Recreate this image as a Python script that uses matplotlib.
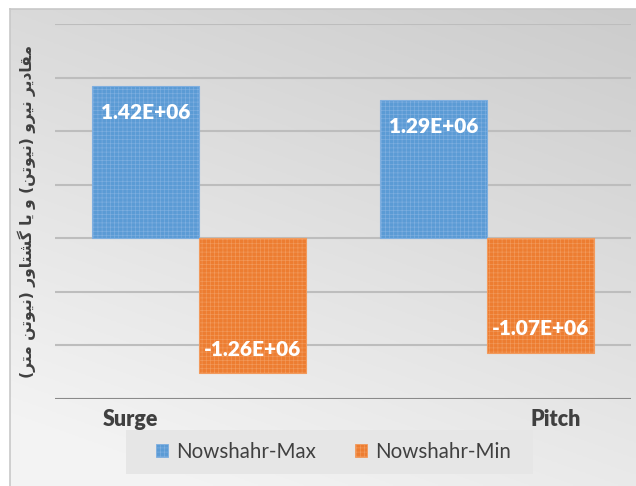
import numpy as np
import matplotlib
matplotlib.use("Agg")
import matplotlib.pyplot as plt
from matplotlib.patches import Patch, Rectangle
from matplotlib.transforms import ScaledTranslation

# ---- data ----
categories = ["Surge", "Pitch"]
series_names = ["Nowshahr-Max", "Nowshahr-Min"]
max_values = [1.42e6, 1.29e6]
min_values = [-1.26e6, -1.07e6]
y_label = "مقادیر نیرو (نیوتن) و یا گشتاور (نیوتن متر)"

colors = ["#5B9BD5", "#ED7D31"]
hatch_colors = ["#7FAFE0", "#F29A5C"]

# ---- minimal Arabic-script shaping (contextual forms + visual order) ----
FORMS = {
    "ا": ("\uFE8D", "\uFE8E", None, None),
    "د": ("\uFEA9", "\uFEAA", None, None),
    "ر": ("\uFEAD", "\uFEAE", None, None),
    "و": ("\uFEED", "\uFEEE", None, None),
    "م": ("\uFEE1", "\uFEE2", "\uFEE3", "\uFEE4"),
    "ق": ("\uFED5", "\uFED6", "\uFED7", "\uFED8"),
    "ن": ("\uFEE5", "\uFEE6", "\uFEE7", "\uFEE8"),
    "ت": ("\uFE95", "\uFE96", "\uFE97", "\uFE98"),
    "ش": ("\uFEB5", "\uFEB6", "\uFEB7", "\uFEB8"),
    "ی": ("\uFBFC", "\uFBFD", "\uFBFE", "\uFBFF"),
    "گ": ("\uFB92", "\uFB93", "\uFB94", "\uFB95"),
}
MIRROR = {"(": ")", ")": "("}


def shape_rtl(text):
    out = []
    for i, ch in enumerate(text):
        if ch not in FORMS:
            out.append(MIRROR.get(ch, ch))
            continue
        prev = text[i - 1] if i > 0 else ""
        nxt = text[i + 1] if i + 1 < len(text) else ""
        join_prev = prev in FORMS and FORMS[prev][2] is not None
        join_next = nxt in FORMS and FORMS[ch][2] is not None
        iso, fin, ini, med = FORMS[ch]
        if join_prev and join_next:
            out.append(med)
        elif join_prev:
            out.append(fin)
        elif join_next:
            out.append(ini)
        else:
            out.append(iso)
    return "".join(reversed(out))


plt.rcParams["hatch.linewidth"] = 0.45
W, H, DPI = 636, 486, 100
fig = plt.figure(figsize=(W / DPI, H / DPI), dpi=DPI, facecolor="white")

# ---- chart-area background: soft gray gradient ----
bg = fig.add_axes([10 / W, 0, (W - 10) / W, (H - 9) / H], zorder=-2)
yy, xx = np.mgrid[0:1:200j, 0:1:200j]
t = np.clip(0.75 * yy + 0.35 * (1 - xx), 0, 1)
t = 1 - t
light, dark = np.array([0.955, 0.955, 0.955]), np.array([0.80, 0.80, 0.80])
img = light[None, None, :] * (1 - t[..., None]) + dark[None, None, :] * t[..., None]
img = img[::-1]
bg.imshow(img, extent=[0, 1, 0, 1], aspect="auto", origin="lower")
bg.set_xlim(0, 1)
bg.set_ylim(0, 1)
bg.set_xticks([])
bg.set_yticks([])
for side, sp in bg.spines.items():
    sp.set_visible(side in ("left", "top"))
    sp.set_color("#c8c8c8")
    sp.set_linewidth(1.2)

# ---- legend panel ----
fig.add_artist(Rectangle((126 / W, (H - 474) / H), 407 / W, 44 / H,
                         transform=fig.transFigure, facecolor="#e6e6e6",
                         edgecolor="none", zorder=-1))

# ---- main axes ----
ax = fig.add_axes([55 / W, (H - 399) / H, 576 / W, 375 / H], zorder=0)
ax.set_facecolor("none")
x = np.arange(len(categories))
w = 0.372

bars = []
for k, (vals, c, hc) in enumerate(zip([max_values, min_values], colors, hatch_colors)):
    b = ax.bar(x + (k - 0.5) * w, vals, width=w, color=c, edgecolor=hc,
               linewidth=0.8, hatch="++++", zorder=3, label=series_names[k])
    bars.append(b)

ax.set_xlim(-0.5, len(categories) - 0.5)
ax.set_ylim(-1.5e6, 2.0e6)
ax.set_yticks(np.arange(-1.5e6, 2.01e6, 0.5e6))
ax.yaxis.grid(True, color="#bdbdbd", linewidth=1.5, zorder=1)
ax.set_axisbelow(True)
ax.tick_params(axis="both", length=0)
ax.set_yticklabels([])
for sp in ax.spines.values():
    sp.set_visible(False)
ax.axhline(-1.5e6, color="#8a8a8a", linewidth=2.2, zorder=2)

# category labels
ax.set_xticks(x)
ax.set_xticklabels(categories, fontfamily="Lato", fontweight="heavy",
                   fontsize=15.5, color="#404040")
ax.tick_params(axis="x", pad=7)
shifts = [-69, 69]
for lab, s in zip(ax.get_xticklabels(), shifts):
    lab.set_transform(lab.get_transform() + ScaledTranslation(s / DPI, 0, fig.dpi_scale_trans))

# value labels inside bar ends
for b in bars:
    for rect in b:
        v = rect.get_height() if rect.get_y() >= 0 else rect.get_y()
        xc = rect.get_x() + rect.get_width() / 2
        off = -26 if v > 0 else 24
        ax.annotate(f"{v:.2E}", xy=(xc, v), xytext=(0, off), textcoords="offset pixels",
                    ha="center", va="center", color="white", fontweight="heavy",
                    fontfamily="Lato", fontsize=15, zorder=5)

# y-axis title (Persian)
ax.set_ylabel(shape_rtl(y_label), fontfamily=["DejaVu Sans"], fontweight="bold",
              fontsize=11.2, color="#404040", labelpad=10)

# legend
handles = [Patch(facecolor=c, edgecolor=hc, hatch="++++", linewidth=0.6)
           for c, hc in zip(colors, hatch_colors)]
fig.legend(handles, series_names, loc="center",
           bbox_to_anchor=(333.5 / W, (H - 452) / H), ncol=2, frameon=False,
           prop={"family": "Lato", "size": 14.8}, labelcolor="#404040",
           handlelength=0.6, handleheight=0.6, handletextpad=0.4,
           columnspacing=1.9)

fig.savefig("out.png", dpi=DPI)
